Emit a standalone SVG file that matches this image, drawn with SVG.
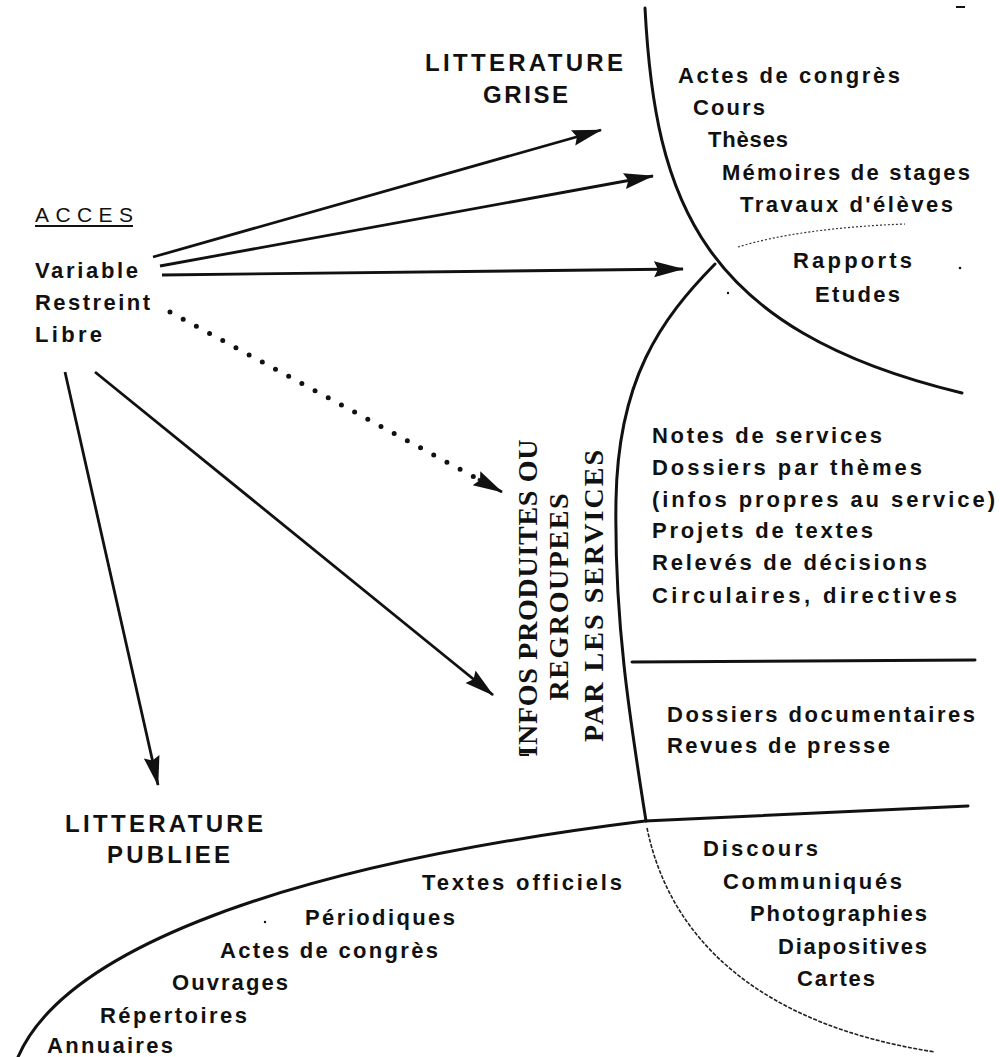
<svg xmlns="http://www.w3.org/2000/svg" width="1000" height="1057" viewBox="0 0 1000 1057">
<style>
.t{font-family:"Liberation Sans",Arial,sans-serif;font-size:22px;font-weight:bold;fill:#111}
.h{font-size:24px}
.n{font-weight:normal;font-size:21px}
.v{font-family:"Liberation Serif","Times New Roman",serif;font-size:28px;font-weight:bold;fill:#111}
.b{fill:none;stroke:#111;stroke-width:3;stroke-linecap:round}
.thin{fill:none;stroke:#222;stroke-width:1.6;stroke-dasharray:4 1.5}
.a{fill:none;stroke:#111;stroke-width:2.8}
.d{fill:none;stroke:#111;stroke-width:5;stroke-linecap:round;stroke-dasharray:0 15}
.sp{fill:#111}
</style>
<defs>
<marker id="ah" markerUnits="userSpaceOnUse" markerWidth="32" markerHeight="18" refX="29" refY="8" orient="auto">
<path d="M0,0 L30,8 L0,16 L4,8 z" fill="#111"/>
</marker>
</defs>
<rect width="1000" height="1057" fill="#fff"/>

<g id="boundaries">
<path class="b" d="M645 8 C655 200 700 330 962 393"/>
<path class="b" d="M715 264 C660 320 618 380 616 500 C614 620 630 720 646 821"/>
<path class="thin" d="M647 828 C670 940 760 1025 935 1052"/>
<path class="b" d="M18 1057 C60 960 250 870 645 821 L968 806"/>
<path class="b" d="M632 662 L975 660"/>
<path fill="none" stroke="#333" stroke-width="1.2" stroke-dasharray="2 2" d="M738 247 Q800 228 905 224"/>
</g>

<g id="specks">
<rect class="sp" x="956" y="6" width="9" height="2"/>
<circle class="sp" cx="960" cy="268" r="1.3"/>
<circle class="sp" cx="728" cy="293" r="1.2"/>
<circle class="sp" cx="265" cy="922" r="1.2"/>
<rect class="sp" x="520" y="754" width="9" height="2"/>
</g>

<g id="acces">
<text class="t n" x="35" y="222" textLength="98" lengthAdjust="spacing">ACCES</text>
<line x1="35" y1="226" x2="133" y2="226" stroke="#111" stroke-width="1.8"/>
<text class="t" x="35" y="278" textLength="103" lengthAdjust="spacing">Variable</text>
<text class="t" x="35" y="310" textLength="115" lengthAdjust="spacing">Restreint</text>
<text class="t" x="35" y="342" textLength="67" lengthAdjust="spacing">Libre</text>
</g>

<g id="litterature-grise">
<text class="t h" x="425" y="71" textLength="198" lengthAdjust="spacing">LITTERATURE</text>
<text class="t h" x="483" y="103" textLength="85" lengthAdjust="spacing">GRISE</text>
<text class="t" x="678" y="83" textLength="222" lengthAdjust="spacing">Actes de congrès</text>
<text class="t" x="693" y="115" textLength="72" lengthAdjust="spacing">Cours</text>
<text class="t" x="708" y="147" textLength="80" lengthAdjust="spacing">Thèses</text>
<text class="t" x="722" y="180" textLength="248" lengthAdjust="spacing">Mémoires de stages</text>
<text class="t" x="740" y="212" textLength="213" lengthAdjust="spacing">Travaux d'élèves</text>
<text class="t" x="793" y="268" textLength="119" lengthAdjust="spacing">Rapports</text>
<text class="t" x="815" y="302" textLength="85" lengthAdjust="spacing">Etudes</text>
</g>

<g id="infos-services">
<text class="v" transform="translate(537 598) rotate(-90)" text-anchor="middle" textLength="317" lengthAdjust="spacing">INFOS PRODUITES OU</text>
<text class="v" transform="translate(568 597) rotate(-90)" text-anchor="middle" textLength="207" lengthAdjust="spacing">REGROUPEES</text>
<text class="v" transform="translate(603 596) rotate(-90)" text-anchor="middle" textLength="292" lengthAdjust="spacing">PAR LES SERVICES</text>
<text class="t" x="652" y="443" textLength="230" lengthAdjust="spacing">Notes de services</text>
<text class="t" x="652" y="475" textLength="270" lengthAdjust="spacing">Dossiers par thèmes</text>
<text class="t" x="652" y="507" textLength="343" lengthAdjust="spacing">(infos propres au service)</text>
<text class="t" x="652" y="538" textLength="221" lengthAdjust="spacing">Projets de textes</text>
<text class="t" x="652" y="570" textLength="275" lengthAdjust="spacing">Relevés de décisions</text>
<text class="t" x="652" y="603" textLength="305" lengthAdjust="spacing">Circulaires, directives</text>
<text class="t" x="667" y="722" textLength="308" lengthAdjust="spacing">Dossiers documentaires</text>
<text class="t" x="667" y="753" textLength="223" lengthAdjust="spacing">Revues de presse</text>
</g>

<g id="documents">
<text class="t" x="703" y="856" textLength="115" lengthAdjust="spacing">Discours</text>
<text class="t" x="723" y="889" textLength="179" lengthAdjust="spacing">Communiqués</text>
<text class="t" x="750" y="921" textLength="177" lengthAdjust="spacing">Photographies</text>
<text class="t" x="778" y="954" textLength="149" lengthAdjust="spacing">Diapositives</text>
<text class="t" x="797" y="986" textLength="78" lengthAdjust="spacing">Cartes</text>
</g>

<g id="litterature-publiee">
<text class="t h" x="65" y="832" textLength="198" lengthAdjust="spacing">LITTERATURE</text>
<text class="t h" x="107" y="863" textLength="123" lengthAdjust="spacing">PUBLIEE</text>
<text class="t" x="422" y="890" textLength="200" lengthAdjust="spacing">Textes officiels</text>
<text class="t" x="305" y="925" textLength="150" lengthAdjust="spacing">Périodiques</text>
<text class="t" x="220" y="958" textLength="218" lengthAdjust="spacing">Actes de congrès</text>
<text class="t" x="172" y="990" textLength="116" lengthAdjust="spacing">Ouvrages</text>
<text class="t" x="100" y="1023" textLength="147" lengthAdjust="spacing">Répertoires</text>
<text class="t" x="47" y="1053" textLength="126" lengthAdjust="spacing">Annuaires</text>
</g>

<g id="connectors">
<line class="a" x1="153" y1="257" x2="601" y2="130" marker-end="url(#ah)"/>
<line class="a" x1="160" y1="266" x2="653" y2="176" marker-end="url(#ah)"/>
<line class="a" x1="162" y1="275" x2="683" y2="269" marker-end="url(#ah)"/>
<line class="d" x1="170" y1="312" x2="478" y2="479"/>
<line class="a" x1="478" y1="479" x2="502" y2="492" marker-end="url(#ah)"/>
<line class="a" x1="95" y1="372" x2="493" y2="695" marker-end="url(#ah)"/>
<line class="a" x1="65" y1="372" x2="158" y2="785" marker-end="url(#ah)"/>
</g>
</svg>
